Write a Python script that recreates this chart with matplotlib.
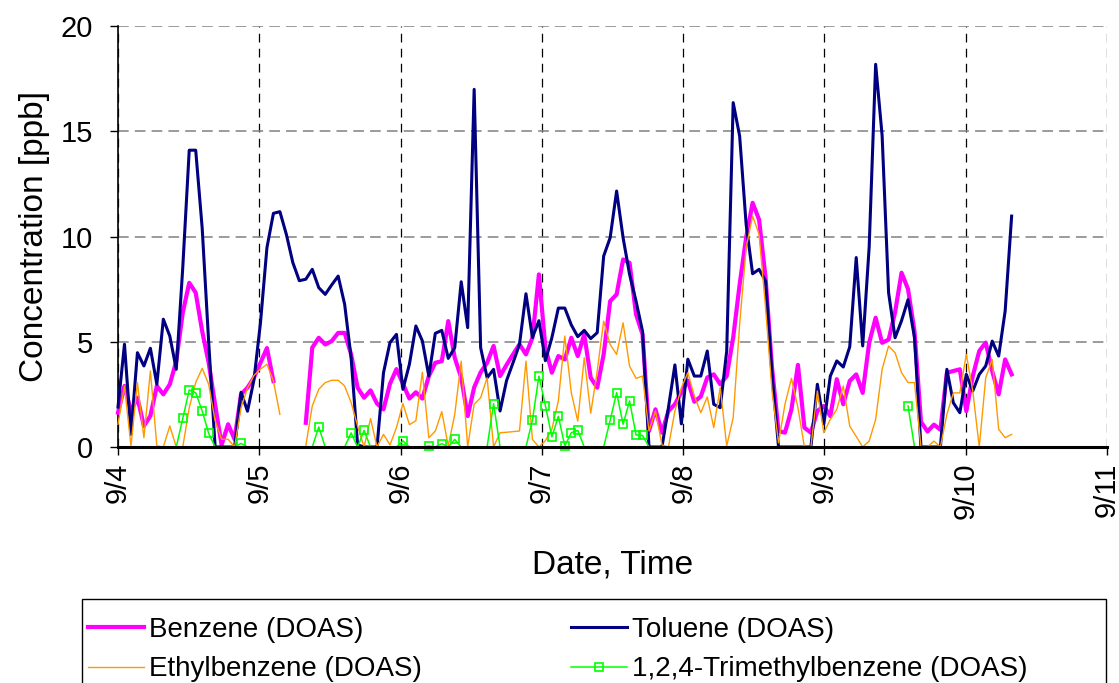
import numpy as np
import matplotlib.pyplot as plt
from matplotlib.lines import Line2D
from matplotlib.patches import Rectangle

plt.rcParams['font.family'] = ['Liberation Sans', 'DejaVu Sans']

# DOAS samples, one every ~66 minutes starting 9/4 00:00
sample_minutes = 66
nan = np.nan

benzene = [
    1.63, 2.9, 1.71, 2.34, 1.0, 1.48, 2.9, 2.5, 2.98, 4.08,
    6.38, 7.8, 7.33, 5.5, 4.0, 2.0, 0.1, 1.08, 0.37, 2.5,
    2.82, 3.3, 4.0, 4.7, 3.13, nan, nan, nan, nan, 1.15,
    4.72, 5.19, 4.87, 5.03, 5.42, 5.42, 4.4, 2.82, 2.34, 2.69,
    2.06, 1.79, 3.0, 3.7, 3.0, 2.3, 2.6, 2.3, 3.37, 4.0,
    4.08, 5.98, 4.24, 3.29, 1.47, 2.83, 3.55, 4.0, 4.8, 3.37,
    3.9, 4.4, 4.88, 4.4, 5.19, 8.2, 4.72, 3.53, 4.32, 4.16,
    5.19, 4.32, 5.35, 3.29, 2.82, 4.4, 6.93, 7.25, 8.91, 8.75,
    6.3, 5.35, 0.76, 1.79, 0.68, 1.71, 2.03, 2.6, 3.15, 2.15,
    2.4, 3.3, 3.45, 2.98, 3.37, 5.2, 7.73, 9.95, 11.6, 10.8,
    8.04, 3.77, 0.76, 0.68, 1.79, 3.9, 0.92, 0.68, 1.71, 1.95,
    1.47, 3.22, 2.03, 3.14, 3.45, 2.57, 4.95, 6.14, 4.95, 5.1,
    6.4, 8.28, 7.5, 5.5, 1.2, 0.74, 1.06, 0.82, 3.53, 3.61,
    3.69, 1.7, 3.37, 4.56, 4.96, 3.6, 2.5, 4.16, 3.45,
]

toluene = [
    1.9, 4.88, 0.6, 4.48, 3.85, 4.69, 2.98, 6.07, 5.27, 3.69,
    8.52, 14.1, 14.1, 10.4, 5.0, 0, 0, 0, 0, 2.6,
    1.7, 3.2, 5.9, 9.47, 11.1, 11.18, 10.1, 8.76, 7.9, 7.97,
    8.44, 7.57, 7.25, 7.7, 8.12, 6.78, 4.24, 0.1, 0, 0,
    0, 3.53, 4.96, 5.35, 2.74, 3.93, 5.75, 5.04, 3.37, 5.4,
    5.54, 4.21, 4.72, 7.85, 5.67, 16.99, 4.72, 3.29, 3.69, 1.71,
    3.15, 4.0, 4.88, 7.28, 5.2, 6.0, 4.1, 5.19, 6.6, 6.6,
    5.8, 5.24, 5.54, 5.15, 5.43, 9.07, 9.94, 12.16, 9.94, 8.2,
    6.93, 5.5, 0, 0, 0, 1.87, 3.9, 1.1, 4.17, 3.37,
    3.37, 4.56, 2.03, 1.87, 4.56, 16.36, 14.77, 10.58, 8.23, 8.44,
    7.89, 3.5, 0, 0, 0, 0, 0, 0, 2.98, 1.1,
    3.37, 4.09, 3.8, 4.76, 9.0, 4.8, 9.5, 18.18, 14.8, 7.33,
    5.19, 6.0, 7.0, 5.2, 0, 0, 0, 0, 3.69, 2.1,
    1.63, 3.45, 2.66, 3.45, 3.85, 5.03, 4.32, 6.46, 10.97,
]

ethylbenzene = [
    1.08, 2.9, 0.05, 3.06, 0.44, 3.61, 0.05, 0, 1.0, 0,
    0, 1.86, 3.06, 3.74, 2.98, 1.24, 0.37, 0.37, 0, 1.86,
    2.81, 3.4, 3.7, 3.93, 3.13, 1.55, nan, nan, nan, 0.05,
    1.95, 2.74, 3.06, 3.17, 3.17, 2.9, 2.11, 1.0, 0, 1.35,
    0, 0.6, 0.1, 0.92, 2.06, 1.06, 1.25, 3.55, 0.44, 0.76,
    1.68, 0.05, 1.55, 4.08, 0, 2.03, 2.34, 3.29, 0, 0.68,
    0.7, 0.73, 0.76, 4.08, 0.36, 0, 0.3, 0.84, 2.19, 5.27,
    2.58, 1.23, 4.24, 1.6, 3.6, 5.98, 4.87, 4.4, 5.9, 3.84,
    3.26, 3.37, 0.76, 1.71, 0.1, 0, 1.71, 2.82, 3.53, 2.42,
    1.63, 2.38, 0.92, 2.83, 0.05, 1.39, 5.83, 9.47, 10.97, 10.1,
    6.62, 2.66, 0.2, 2.04, 3.26, 1.87, 0, 0, 2.66, 0.68,
    1.31, 1.79, 2.9, 0.99, 0.5, 0, 0.28, 1.31, 3.69, 4.8,
    4.48, 3.53, 3.06, 3.06, 0, 0, 0.28, 0, 1.55, 2.57,
    2.57, 4.4, 2.66, 0, 3.29, 4.16, 0.84, 0.44, 0.6,
]

trimethylbenzene = [
    0, 0, 0, 0, 0, 0, 0, 0, 0, 0,
    1.36, 2.71, 2.58, 1.71, 0.65, 0, 0, 0, 0, 0.17,
    0, 0, 0, 0, nan, nan, nan, nan, nan, 0,
    0, 0.95, 0, 0, 0, 0, 0.67, 0, 0.79, 0,
    0, 0, 0, 0, 0.29, 0, 0, 0, 0.05, 0,
    0.16, 0, 0.36, 0, 0, 0, 0, 0, 2.06, 0,
    0, 0, 0, 0, 1.27, 3.37, 1.97, 0.48, 1.46, 0.05,
    0.68, 0.79, 0, 0, 0, 0, 1.27, 2.58, 1.08, 2.19,
    0.57, 0.55, 0, 0, 0, 0, 0, 0, 0, 0,
    0, 0, 0, 0, 0, 0, 0, 0, 0, 0,
    0, 0, 0, 0, 0, 0, 0, 0, 0, 0,
    0, 0, 0, 0, 0, 0, 0, 0, 0, nan,
    nan, nan, 1.95, 0, 0, 0, 0, 0, 0, 0,
    0, 0, 0, 0, 0, 0, 0, 0, 0,
]

day_labels = ['9/4', '9/5', '9/6', '9/7', '9/8', '9/9', '9/10', '9/11']

t = np.arange(len(toluene)) * sample_minutes / 1440.0
tmb = np.array(trimethylbenzene)

fig = plt.figure(figsize=(11.19, 6.83), dpi=100)
ax = fig.add_axes([118 / 1119, 1 - 447 / 683, 989 / 1119, 421 / 683])

ax.plot(t, benzene, color='#FF00FF', lw=3.0, clip_on=False, zorder=3)
ax.plot(t, toluene, color='#000080', lw=2.2, clip_on=False, zorder=4)
ax.plot(t, ethylbenzene, color='#FF9900', lw=1.0, clip_on=False, zorder=5)
ax.plot(t, tmb, color='#00FF00', lw=1.1, clip_on=False, zorder=6,
        marker='s', markersize=5.5, markerfacecolor='none', markeredgewidth=1.2,
        markevery=list(np.nan_to_num(tmb) > 0))

ax.set_xlim(0, 7)
ax.set_ylim(0, 20)
ax.set_xticks(range(8))
ax.set_xticklabels(day_labels, rotation=90, fontsize=21)
ax.set_yticks([0, 5, 10, 15, 20])
ax.tick_params(axis='y', direction='out', length=6, width=1, labelsize=21, pad=12)
ax.tick_params(axis='x', direction='out', length=6, width=1, pad=5)

ax.grid(axis='x', color='black', linestyle=(0, (7, 5)), lw=0.9)
ax.grid(axis='y', color='#808080', linestyle=(0, (7, 4)), lw=1.1)
ax.set_axisbelow(True)

ax.spines['top'].set_visible(False)
ax.spines['right'].set_visible(False)
ax.spines['left'].set_linewidth(1.2)
ax.spines['bottom'].set_linewidth(2.2)
ax.spines['bottom'].set_zorder(7)

ax.set_xlabel('Date, Time', fontsize=24, labelpad=22)
ax.set_ylabel('Concentration [ppb]', fontsize=24, labelpad=8)

handles = [
    Line2D([], [], color='#FF00FF', lw=3.0),
    Line2D([], [], color='#FF9900', lw=1.0),
    Line2D([], [], color='#000080', lw=2.2),
    Line2D([], [], color='#00FF00', lw=1.1, marker='s', markersize=5.5,
           markerfacecolor='none', markeredgewidth=1.2),
]
labels = ['Benzene (DOAS)', 'Ethylbenzene (DOAS)', 'Toluene (DOAS)',
          '1,2,4-Trimethylbenzene (DOAS)']
fig.legend(handles, labels, ncol=2, loc='upper left',
           bbox_to_anchor=(88 / 1119, 1 - 617 / 683), frameon=False,
           fontsize=20, handlelength=2.0, handletextpad=0.18,
           columnspacing=5.4, labelspacing=0.48, borderpad=0,
           borderaxespad=0, numpoints=1)
fig.add_artist(Rectangle((82 / 1119, -0.05), 1024 / 1119, 0.05 + 1 - 599 / 683,
                         transform=fig.transFigure, fill=False,
                         edgecolor='black', lw=1.0))

fig.savefig('out.png', dpi=100)
